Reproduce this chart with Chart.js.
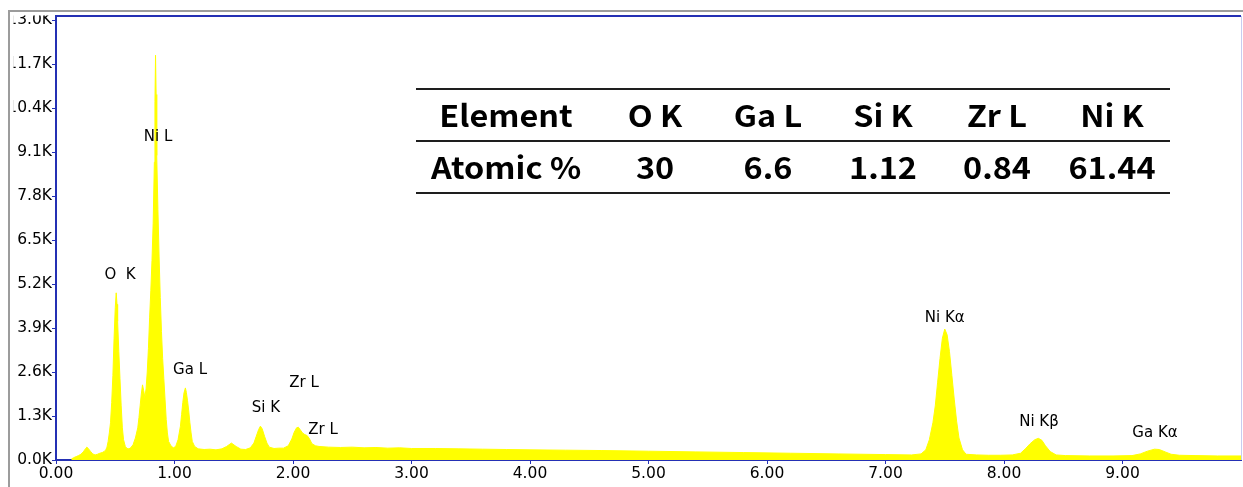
<!DOCTYPE html>
<html>
<head>
<meta charset="utf-8">
<script src="https://cdn.jsdelivr.net/npm/chart.js@4.4.1/dist/chart.umd.min.js"></script>
<style>
  html, body { margin: 0; padding: 0; background: #fff; overflow: hidden; }
  #c { display: block; }
</style>
</head>
<body>
<canvas id="c" width="1243" height="487"></canvas>
<script>
// EDS spectrum: photon energy (keV) and counts (thousands)
const energyKeV = [
  0.13, 0.15, 0.17, 0.19, 0.21, 0.23, 0.25, 0.26, 0.27, 0.29, 0.31, 0.33, 0.35, 0.37, 0.39, 0.41,
  0.42, 0.43, 0.44, 0.45, 0.46, 0.47, 0.48, 0.49, 0.50, 0.508, 0.515, 0.52, 0.53, 0.54, 0.55, 0.56,
  0.57, 0.585, 0.60, 0.615, 0.63, 0.65, 0.67, 0.69, 0.70, 0.71, 0.72, 0.73, 0.74, 0.75, 0.76, 0.77,
  0.78, 0.79, 0.80, 0.81, 0.82, 0.83, 0.835, 0.84, 0.845, 0.85, 0.86, 0.87, 0.88, 0.89, 0.90, 0.91,
  0.92, 0.93, 0.94, 0.95, 0.97, 0.99, 1.01, 1.03, 1.05, 1.06, 1.07, 1.08, 1.092, 1.10, 1.11, 1.12,
  1.13, 1.14, 1.15, 1.17, 1.20, 1.25, 1.30, 1.35, 1.40, 1.44, 1.48, 1.52, 1.56, 1.60, 1.64, 1.67,
  1.69, 1.71, 1.725, 1.74, 1.76, 1.78, 1.80, 1.84, 1.88, 1.92, 1.96, 1.99, 2.01, 2.03, 2.045, 2.06,
  2.08, 2.10, 2.12, 2.14, 2.16, 2.19, 2.22, 2.30, 2.40, 2.50, 2.60, 2.70, 2.80, 2.90, 3.00, 3.20,
  3.40, 3.60, 3.80, 4.00, 4.30, 4.60, 5.00, 5.40, 5.80, 6.20, 6.60, 7.00, 7.22, 7.30, 7.34, 7.37,
  7.40, 7.42, 7.44, 7.46, 7.48, 7.50, 7.52, 7.54, 7.56, 7.58, 7.60, 7.62, 7.65, 7.68, 7.77, 7.87,
  7.97, 8.07, 8.14, 8.18, 8.22, 8.26, 8.29, 8.32, 8.35, 8.39, 8.44, 8.52, 8.72, 8.92, 9.08, 9.15,
  9.21, 9.27, 9.31, 9.36, 9.41, 9.48, 9.62, 9.80, 10.00
];
const countsK = [
  0.03, 0.07, 0.10, 0.13, 0.17, 0.24, 0.34, 0.38, 0.35, 0.26, 0.18, 0.15, 0.17, 0.20, 0.22, 0.26,
  0.30, 0.38, 0.55, 0.80, 1.10, 1.70, 2.50, 3.60, 4.50, 4.94, 4.60, 4.10, 3.20, 2.40, 1.60, 0.95,
  0.60, 0.40, 0.34, 0.33, 0.36, 0.45, 0.65, 0.95, 1.25, 1.60, 1.95, 2.22, 2.05, 1.85, 2.10, 2.60,
  3.30, 4.20, 5.00, 5.90, 7.00, 8.80, 10.60, 11.96, 10.80, 9.00, 7.40, 6.00, 4.80, 3.80, 3.00, 2.40,
  1.80, 1.20, 0.80, 0.55, 0.42, 0.36, 0.40, 0.60, 1.00, 1.35, 1.70, 1.98, 2.13, 2.00, 1.75, 1.45,
  1.10, 0.80, 0.55, 0.40, 0.33, 0.31, 0.32, 0.30, 0.33, 0.40, 0.50, 0.40, 0.32, 0.31, 0.36, 0.50,
  0.70, 0.90, 1.00, 0.92, 0.70, 0.50, 0.38, 0.34, 0.35, 0.35, 0.42, 0.62, 0.82, 0.95, 0.97, 0.90,
  0.80, 0.75, 0.72, 0.62, 0.48, 0.42, 0.40, 0.38, 0.37, 0.38, 0.36, 0.37, 0.35, 0.36, 0.34, 0.34,
  0.33, 0.32, 0.31, 0.30, 0.29, 0.28, 0.26, 0.24, 0.22, 0.20, 0.18, 0.16, 0.15, 0.18, 0.30, 0.60,
  1.10, 1.60, 2.30, 3.00, 3.60, 3.87, 3.70, 3.20, 2.50, 1.80, 1.15, 0.65, 0.30, 0.17, 0.15, 0.14,
  0.14, 0.15, 0.20, 0.33, 0.48, 0.60, 0.64, 0.58, 0.42, 0.25, 0.15, 0.13, 0.12, 0.12, 0.13, 0.18,
  0.26, 0.32, 0.31, 0.24, 0.17, 0.14, 0.13, 0.12, 0.12
];

// Axis ticks
const xTickValues = [0, 1, 2, 3, 4, 5, 6, 7, 8, 9];
const yTickValues = [0, 1.3, 2.6, 3.9, 5.2, 6.5, 7.8, 9.1, 10.4, 11.7, 13.0];

// Peak identifications (label text, energy keV, counts K where the label sits)
const peakNames = ['O  K', 'Ni L', 'Ga L', 'Si K', 'Zr L', 'Zr L', 'Ni K\u03b1', 'Ni K\u03b2', 'Ga K\u03b1'];
const peakLabelEnergy = [0.540, 0.861, 1.131, 1.772, 2.093, 2.253, 7.50, 8.295, 9.274];
const peakLabelCountsK = [5.47, 9.54, 2.66, 1.54, 2.27, 0.89, 4.19, 1.12, 0.80];

// Quantification table
const tableElements = ['O K', 'Ga L', 'Si K', 'Zr L', 'Ni K'];
const tableAtomicPct = ['30', '6.6', '1.12', '0.84', '61.44'];

// Styling / layout
const BLUE = '#2430b4';
const TICK_FONT = { family: '"DejaVu Sans", Verdana, sans-serif', size: 15.5 };
const TABLE = {
  left: 416, right: 1170,
  rules: [89, 141, 193],
  rowY: [116, 168],
  cols: [506, 655, 768, 883, 997, 1112],
  stretch: 1.08,
  font: 'bold 30px "Noto Sans CJK KR", "Noto Sans", sans-serif'
};

const peakLabelPlugin = {
  id: 'peakLabels',
  afterDatasetsDraw(chart) {
    const { ctx, scales: { x, y } } = chart;
    ctx.save();
    ctx.fillStyle = '#000';
    ctx.font = '15px "DejaVu Sans", Verdana, sans-serif';
    ctx.textAlign = 'center';
    ctx.textBaseline = 'middle';
    peakNames.forEach((name, i) => {
      ctx.fillText(name, x.getPixelForValue(peakLabelEnergy[i]), y.getPixelForValue(peakLabelCountsK[i]));
    });
    ctx.restore();
  }
};

const framePlugin = {
  id: 'frame',
  afterDraw(chart) {
    const { ctx, chartArea: a, width, height } = chart;
    ctx.save();
    // window edge clips the outer margin
    ctx.fillStyle = '#fff';
    ctx.fillRect(0, 0, 13.5, height);
    ctx.fillRect(0, 0, width, a.top - 0.5);
    // outer grey window border
    ctx.strokeStyle = '#9c9c9c';
    ctx.lineWidth = 2;
    ctx.beginPath();
    ctx.moveTo(9, height);
    ctx.lineTo(9, 11);
    ctx.lineTo(width, 11);
    ctx.stroke();
    // plot frame
    ctx.strokeStyle = BLUE;
    ctx.lineWidth = 2;
    ctx.beginPath();
    ctx.moveTo(a.left - 1, a.top);
    ctx.lineTo(a.right, a.top);
    ctx.stroke();
    ctx.strokeStyle = '#c8ccf0';
    ctx.lineWidth = 1;
    ctx.beginPath();
    ctx.moveTo(a.right + 0.5, a.top);
    ctx.lineTo(a.right + 0.5, a.bottom);
    ctx.stroke();
    ctx.restore();
  }
};

const tablePlugin = {
  id: 'compositionTable',
  afterDraw(chart) {
    const ctx = chart.ctx;
    ctx.save();
    ctx.strokeStyle = '#1e1e1e';
    ctx.lineWidth = 2;
    TABLE.rules.forEach(yy => {
      ctx.beginPath();
      ctx.moveTo(TABLE.left, yy);
      ctx.lineTo(TABLE.right, yy);
      ctx.stroke();
    });
    ctx.fillStyle = '#000';
    ctx.font = TABLE.font;
    ctx.textAlign = 'center';
    ctx.textBaseline = 'middle';
    const rows = [['Element'].concat(tableElements), ['Atomic %'].concat(tableAtomicPct)];
    rows.forEach((row, r) => {
      row.forEach((txt, c) => {
        ctx.save();
        ctx.translate(TABLE.cols[c], TABLE.rowY[r]);
        ctx.scale(TABLE.stretch, 1);
        ctx.fillText(txt, 0, 0);
        ctx.restore();
      });
    });
    ctx.restore();
  }
};

new Chart(document.getElementById('c'), {
  type: 'line',
  data: {
    datasets: [{
      data: energyKeV.map((e, i) => ({ x: e, y: countsK[i] })),
      fill: 'origin',
      backgroundColor: '#ffff00',
      borderColor: '#ffff00',
      borderWidth: 1,
      pointRadius: 0,
      tension: 0
    }]
  },
  options: {
    responsive: false,
    animation: false,
    devicePixelRatio: 1,
    layout: { padding: { left: 0, top: 16, right: 2, bottom: 0 } },
    plugins: { legend: { display: false }, tooltip: { enabled: false } },
    scales: {
      x: {
        type: 'linear',
        min: 0,
        max: 10,
        afterBuildTicks: s => { s.ticks = xTickValues.map(v => ({ value: v })); },
        afterFit: s => { s.height = 27; },
        ticks: {
          callback: v => Number(v).toFixed(2),
          font: TICK_FONT,
          color: '#000',
          maxRotation: 0,
          autoSkip: false,
          padding: 1
        },
        grid: { drawOnChartArea: false, drawTicks: true, tickLength: 4, color: BLUE },
        border: { display: true, color: BLUE, width: 2 }
      },
      y: {
        min: 0,
        max: 13.12,
        afterBuildTicks: s => { s.ticks = yTickValues.map(v => ({ value: v })); },
        afterFit: s => { s.width = 56; },
        ticks: {
          callback: v => Number(v).toFixed(1) + 'K',
          font: TICK_FONT,
          color: '#000',
          autoSkip: false,
          padding: 0
        },
        grid: { drawOnChartArea: false, drawTicks: true, tickLength: 4, color: BLUE },
        border: { display: true, color: BLUE, width: 2 }
      }
    }
  },
  plugins: [peakLabelPlugin, tablePlugin, framePlugin]
});
</script>
</body>
</html>
